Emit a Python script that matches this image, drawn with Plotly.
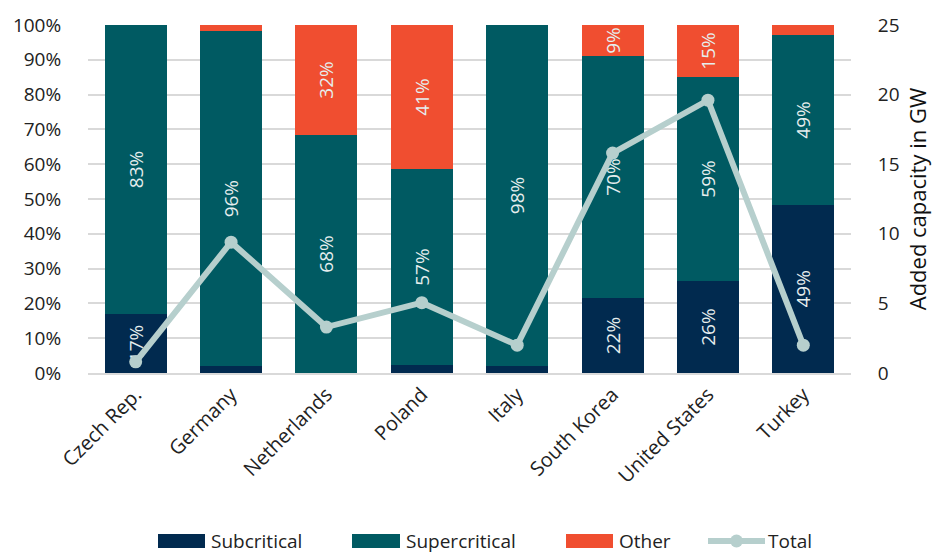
import plotly.graph_objects as go

countries = ["Czech Rep.", "Germany", "Netherlands", "Poland", "Italy", "South Korea", "United States", "Turkey"]
subcritical = [17.0, 2.0, 0.0, 2.3, 2.0, 21.5, 26.4, 48.4]
supercritical = [83.0, 96.2, 68.4, 56.3, 98.0, 69.6, 58.7, 48.6]
other = [0.0, 1.8, 31.6, 41.4, 0.0, 8.9, 14.9, 3.0]
sub_labels = ["17%", "", "", "", "", "22%", "26%", "49%"]
super_labels = ["83%", "96%", "68%", "57%", "98%", "70%", "59%", "49%"]
other_labels = ["", "", "32%", "41%", "", "9%", "15%", ""]
total_gw = [0.8, 9.4, 3.3, 5.05, 2.0, 15.8, 19.6, 2.0]
pct_ticks = [0, 10, 20, 30, 40, 50, 60, 70, 80, 90, 100]
pct_tick_labels = [f"{v}%" for v in pct_ticks]
gw_ticks = [0, 5, 10, 15, 20, 25]

FONT = "Open Sans"
TXT = "#222222"
C_SUB, C_SUP, C_OTH, C_TOT = "#012A4F", "#005A62", "#F04E30", "#B6CFCD"
txtfont = dict(family=FONT, size=19, color="#e6eeee")

fig = go.Figure()
for name, vals, labels, color in [
    ("Subcritical", subcritical, sub_labels, C_SUB),
    ("Supercritical", supercritical, super_labels, C_SUP),
    ("Other", other, other_labels, C_OTH),
]:
    fig.add_trace(go.Bar(
        name=name, x=countries, y=vals, marker=dict(color=color, line=dict(width=0)),
        text=labels, textposition="inside", insidetextanchor="middle",
        textangle=-90, textfont=txtfont, constraintext="none",
        hoverinfo="skip", showlegend=False,
    ))

fig.add_trace(go.Scatter(
    name="Total", x=countries, y=total_gw, yaxis="y2", mode="lines+markers",
    line=dict(color=C_TOT, width=6), marker=dict(size=13, color=C_TOT), showlegend=False,
))

# custom legend (wide colour swatches as in the original)
W, H = 933, 548
L, R, T, B = 80, 90, 17, 183
pw, ph = W - L - R, H - T - B


def px(page_x):
    return (page_x - 8 - L) / pw


def py(page_y):
    return (H - B - (page_y - 8)) / ph


shapes = []
annotations = []
ly = 541
items = [("Subcritical", C_SUB, 158, 205), ("Supercritical", C_SUP, 352, 400), ("Other", C_OTH, 566, 613)]
for name, color, x0, x1 in items:
    shapes.append(dict(type="rect", xref="paper", yref="paper", x0=px(x0), x1=px(x1),
                       y0=py(ly + 7), y1=py(ly - 7), fillcolor=color, line=dict(width=0)))
    annotations.append(dict(text=name, xref="paper", yref="paper", x=px(x1 + 4), y=py(ly),
                            xanchor="left", yanchor="middle", showarrow=False,
                            font=dict(family=FONT, size=19, color=TXT)))
shapes.append(dict(type="line", xref="paper", yref="paper", x0=px(708), x1=px(765),
                   y0=py(ly), y1=py(ly), line=dict(color=C_TOT, width=6)))
shapes.append(dict(type="circle", xref="paper", yref="paper", x0=px(730), x1=px(743),
                   y0=py(ly + 6.5), y1=py(ly - 6.5), fillcolor=C_TOT, line=dict(width=0)))
annotations.append(dict(text="Total", xref="paper", yref="paper", x=px(766), y=py(ly),
                        xanchor="left", yanchor="middle", showarrow=False,
                        font=dict(family=FONT, size=19, color=TXT)))

fig.update_layout(
    barmode="stack", bargap=0.35,
    width=W, height=H,
    margin=dict(l=L, r=R, t=T, b=B, autoexpand=False),
    paper_bgcolor="white", plot_bgcolor="white",
    font=dict(family=FONT, size=18, color=TXT),
    showlegend=False,
    shapes=shapes, annotations=annotations,
    xaxis=dict(tickangle=-45, showgrid=False, showline=True, linecolor="#d9d9d9", linewidth=2,
               tickfont=dict(family=FONT, size=20, color=TXT), ticks="", automargin=False),
    yaxis=dict(range=[0, 100], tickvals=pct_ticks, ticktext=pct_tick_labels,
               showgrid=True, gridcolor="#d9d9d9", gridwidth=2, automargin=False,
               zeroline=False, ticks="outside", ticklen=22, tickcolor="rgba(0,0,0,0)",
               tickfont=dict(family=FONT, size=19, color=TXT)),
    yaxis2=dict(range=[0, 25], tickvals=gw_ticks, overlaying="y", side="right",
                showgrid=False, zeroline=False, ticks="outside", ticklen=22, automargin=False,
                tickcolor="rgba(0,0,0,0)",
                title=dict(text="Added capacity in GW", font=dict(family=FONT, size=22, color="#111111"),
                           standoff=12),
                tickfont=dict(family=FONT, size=19, color=TXT)),
)

fig.write_html("out.html")
